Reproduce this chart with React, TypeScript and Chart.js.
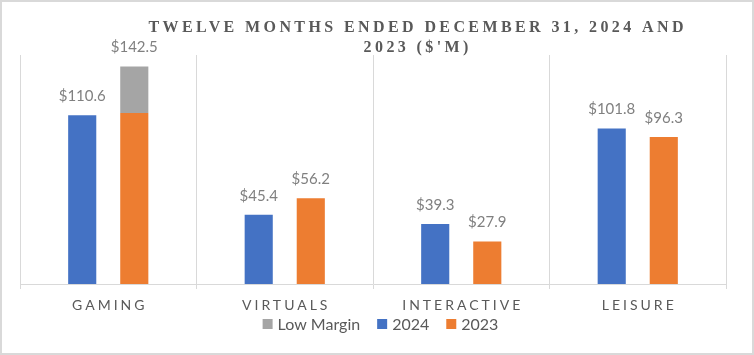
import React, { useEffect, useRef } from "react";
import { Chart, registerables } from "chart.js";

Chart.register(...registerables);

const categories = ["GAMING", "VIRTUALS", "INTERACTIVE", "LEISURE"];
const values2024 = [110.6, 45.4, 39.3, 101.8];
const values2023 = [112.0, 56.2, 27.9, 96.3];
const lowMargin = [30.5, 0, 0, 0];
const titleLines = ["TWELVE MONTHS ENDED DECEMBER 31, 2024 AND", "2023 ($'M)"];
const legendOrder = [2, 0, 1];

const BLUE = "#4472C4";
const ORANGE = "#ED7D31";
const GRAY = "#A5A5A5";
const GRID = "#d9d9d9";
const TEXT_DARK = "#595959";
const TEXT_LIGHT = "#808080";

const fmt = (v: number) => "$" + v.toFixed(1);

const decorPlugin = {
  id: "decor",
  afterDraw(chart: any) {
    const ctx = chart.ctx as CanvasRenderingContext2D;
    const area = chart.chartArea;
    const xScale = chart.scales.x;

    // Title
    ctx.save();
    ctx.fillStyle = TEXT_DARK;
    ctx.font = "bold 16px 'Liberation Serif', 'Times New Roman', serif";
    (ctx as any).letterSpacing = "3.4px";
    ctx.textAlign = "center";
    ctx.textBaseline = "middle";
    ctx.fillText(titleLines[0], 414 + 1.7, 25.5);
    ctx.fillText(titleLines[1], 414 + 1.7, 46);
    ctx.restore();

    // Category labels
    ctx.save();
    ctx.fillStyle = TEXT_DARK;
    ctx.font = "14px Lato, sans-serif";
    (ctx as any).letterSpacing = "3px";
    ctx.textAlign = "center";
    ctx.textBaseline = "middle";
    categories.forEach((c, i) => {
      ctx.fillText(c, xScale.getPixelForValue(i) + 1.5, area.bottom + 21);
    });
    ctx.restore();

    // Data labels
    ctx.save();
    ctx.fillStyle = TEXT_LIGHT;
    ctx.font = "15px Lato, sans-serif";
    ctx.textAlign = "center";
    ctx.textBaseline = "middle";
    const m0 = chart.getDatasetMeta(0).data;
    const m1 = chart.getDatasetMeta(1).data;
    const m2 = chart.getDatasetMeta(2).data;
    categories.forEach((_, i) => {
      const b0 = m0[i];
      ctx.fillText(fmt(values2024[i]), b0.x, b0.y - 19);
      if (lowMargin[i] > 0) {
        const b2 = m2[i];
        ctx.fillText(fmt(values2023[i] + lowMargin[i]), b2.x, b2.y - 19);
      } else {
        const b1 = m1[i];
        ctx.fillText(fmt(values2023[i]), b1.x, b1.y - 19);
      }
    });
    ctx.restore();

    // Legend
    ctx.save();
    ctx.font = "16px Lato, sans-serif";
    ctx.textBaseline = "middle";
    ctx.textAlign = "left";
    const box = 10;
    const gapBox = 5;
    const gapItem = 17;
    const ds = chart.data.datasets;
    const widths = legendOrder.map((k) => box + gapBox + ctx.measureText(ds[k].label).width);
    const total = widths.reduce((a, b) => a + b, 0) + gapItem * (widths.length - 1);
    let x = 378.5 - total / 2;
    const y = 322;
    legendOrder.forEach((k, j) => {
      ctx.fillStyle = ds[k].backgroundColor;
      ctx.fillRect(x, y - box / 2, box, box);
      ctx.fillStyle = TEXT_DARK;
      ctx.fillText(ds[k].label, x + box + gapBox, y + 1);
      x += widths[j] + gapItem;
    });
    ctx.restore();
  },
};

export default function App() {
  const ref = useRef<HTMLCanvasElement | null>(null);
  useEffect(() => {
    if (!ref.current) return;
    const chart = new Chart(ref.current, {
      type: "bar",
      data: {
        labels: categories,
        datasets: [
          { label: "2024", data: values2024, backgroundColor: BLUE, stack: "a" },
          { label: "2023", data: values2023, backgroundColor: ORANGE, stack: "b" },
          { label: "Low Margin", data: lowMargin, backgroundColor: GRAY, stack: "b" },
        ],
      },
      options: {
        animation: false,
        responsive: false,
        maintainAspectRatio: false,
        datasets: {
          bar: { categoryPercentage: 0.59, barPercentage: 0.54 },
        },
        layout: { padding: { left: 18, right: 26, top: 53, bottom: 64 } },
        plugins: {
          legend: { display: false },
          title: { display: false },
          tooltip: { enabled: false },
        },
        scales: {
          x: {
            stacked: true,
            grid: { offset: true, color: GRID, lineWidth: 1, tickLength: 5, drawTicks: true },
            border: { display: true, color: GRID },
            ticks: { display: false },
          },
          y: {
            stacked: true,
            display: false,
            min: 0,
            max: 150,
          },
        },
      },
      plugins: [decorPlugin],
    });
    return () => chart.destroy();
  }, []);

  return (
    <div
      style={{
        position: "absolute",
        left: 0,
        top: 0,
        width: 754,
        height: 355,
        boxSizing: "border-box",
        border: "2px solid #d9d9d9",
        background: "#fff",
      }}
    >
      <canvas ref={ref} width={750} height={351} style={{ display: "block" }} />
    </div>
  );
}
